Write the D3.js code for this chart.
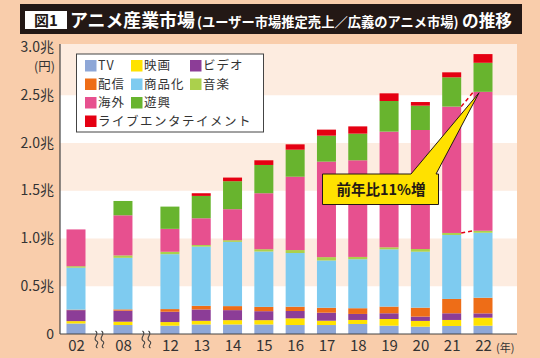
<!DOCTYPE html>
<html><head><meta charset="utf-8">
<script src="https://cdn.jsdelivr.net/npm/d3@7"></script>
<style>
html,body{margin:0;padding:0;background:#f9cdab;}
svg{display:block;font-family:"Noto Sans CJK JP","Noto Sans",sans-serif;}
</style></head>
<body>
<svg id="c" width="540" height="358"></svg>
<script>
// ---- data (億円) ----
const years = ["02","08","12","13","14","15","16","17","18","19","20","21","22"];
const slots = [0,1.5,3,4,5,6,7,8,9,10,11,12,13];
const seriesNames = ["TV","映画","ビデオ","配信","商品化","音楽","海外","遊興","ライブエンタテイメント"];
const tv      = [1100, 940, 870,1000,1000,1000, 940, 940,1050, 870, 770, 840, 870];
const eiga    = [ 250, 350, 380, 380, 450, 450, 700, 450, 420, 700, 600, 630, 840];
const video   = [1150,1150,1080,1190,1050, 940, 770, 840, 630, 600, 450, 700, 450];
const haishin = [  50, 140, 280, 380, 420, 450, 450, 520, 600, 700, 940,1500,1640];
const shohin  = [4400,5400,5750,6200,6730,5800,5620,4950,5130,6000,5860,6700,6800];
const ongaku  = [ 150, 250, 250, 170, 170, 240, 310, 350, 240, 210, 280, 210, 210];
const kaigai  = [3850,4200,2400,2800,3250,5860,7680,10000,10120,12110,12460,13230,14550];
const yukyo   = [   0,1500,2330,2340,2930,2960,2830,2720,2790,3210,2550,3070,3040];
const live    = [   0,   0,   0, 280, 380, 490, 560, 630, 760, 800, 380, 520, 910];
const yTicks = [0,5000,10000,15000,20000,25000,30000];
const yTickLabels = ["0","0.5兆","1.0兆","1.5兆","2.0兆","2.5兆","3.0兆"];
const colors = ["#8ea7d7","#ffe200","#8c3d97","#ee6d17","#7ecbf0","#abd04c","#e7508f","#68b42e","#e50012"];
const calloutText = "前年比11%増";

const seriesData = [tv,eiga,video,haishin,shohin,ongaku,kaigai,yukyo,live];
const table = years.map((y,i)=>{const o={year:y,slot:slots[i]}; seriesNames.forEach((s,k)=>o[s]=seriesData[k][i]); return o;});

const svg = d3.select("#c");
const L=60, R=517, T=44, B=334;
const x = d3.scaleLinear().domain([0,13]).range([76,483]);
const y = d3.scaleLinear().domain([0,30000]).range([B,47.5]);
const bw = 19;

// title
svg.append("rect").attr("x",20).attr("y",4).attr("width",502).attr("height",30).attr("fill","#231815");
svg.append("rect").attr("x",25).attr("y",11).attr("width",42).attr("height",18).attr("fill","#fff");
svg.append("text").attr("x",46).attr("y",26).attr("text-anchor","middle").attr("font-size",15).attr("font-weight","bold").attr("fill","#231815").text("図1");
function fitText(str, x0, width, size0, baseline){
  const t = svg.append("text").attr("x",x0).attr("y",baseline).attr("font-size",size0).attr("font-weight","bold").attr("fill","#fff").text(str);
  const w = t.node().getComputedTextLength();
  if (w>0) t.attr("font-size", size0*width/w);
  return t;
}
fitText("アニメ産業市場",70,125,18,27);
fitText("(ユーザー市場推定売上／広義のアニメ市場)",197,262,14,26.5);
fitText("の推移",462,50,17,27);

// plot background & bands
svg.append("rect").attr("x",L).attr("y",T).attr("width",R-L).attr("height",B-T).attr("fill","#fff");
[[5000,10000],[15000,20000],[25000,30000]].forEach(([a,b])=>{
  const top = b===30000 ? T : y(b);
  svg.append("rect").attr("x",L).attr("y",top).attr("width",R-L).attr("height",y(a)-top).attr("fill","#fdece0");
});

// bars
const stack = d3.stack().keys(seriesNames)(table);
svg.append("g").selectAll("g").data(stack).join("g").attr("fill",(d,i)=>colors[i])
  .selectAll("rect").data(d=>d).join("rect")
  .attr("x",d=>x(d.data.slot)-bw/2).attr("width",bw)
  .attr("y",d=>y(d[1])).attr("height",d=>Math.max(0,y(d[0])-y(d[1])));

// axes
const yAxis = d3.axisLeft(y).tickValues(yTicks).tickFormat((d,i)=>yTickLabels[i]).tickSize(0).tickPadding(6);
const gy = svg.append("g").attr("transform",`translate(${L},0)`).call(yAxis);
gy.select(".domain").remove();
gy.selectAll("text").attr("font-size",14).attr("fill","#333").attr("font-family","'Noto Sans CJK JP',sans-serif").attr("dy","0.3em");
svg.append("line").attr("x1",L).attr("x2",L).attr("y1",T).attr("y2",B).attr("stroke","#444").attr("stroke-width",1.2);
svg.append("text").attr("x",55).attr("y",71).attr("text-anchor","end").attr("font-size",12.5).attr("fill","#333").text("(円)");

const xAxis = d3.axisBottom(x).tickValues(slots).tickFormat((d,i)=>years[i]).tickSize(0).tickPadding(6);
const gx = svg.append("g").attr("transform",`translate(0,${B})`).call(xAxis);
gx.select(".domain").remove();
gx.selectAll("text").attr("font-size",15).attr("fill","#333").attr("font-family","'Noto Sans CJK JP',sans-serif");
svg.append("line").attr("x1",L).attr("x2",R).attr("y1",B).attr("y2",B).attr("stroke","#444").attr("stroke-width",1.2);
svg.append("text").attr("x",496).attr("y",352).attr("font-size",11).attr("fill","#333").text("(年)");

// break marks
[ (x(0)+x(1.5))/2, (x(1.5)+x(3))/2 ].forEach(cx=>{
  [-3,3].forEach(dx=>{
    const px = cx+dx;
    svg.append("path").attr("d",`M${px-1},331 C${px+4},334 ${px-5},338 ${px},341 C${px+4},343 ${px-3},346 ${px+1},348`)
      .attr("fill","none").attr("stroke","#444").attr("stroke-width",1.1);
  });
});

// legend
svg.append("rect").attr("x",76.5).attr("y",54).attr("width",187).attr("height",78).attr("fill","#fff").attr("stroke","#444").attr("stroke-width",1);
const legPos = [[85,65.5],[131,65.5],[190,65.5],[85,84],[131,84],[190,84],[85,102.5],[131,102.5],[85,121]];
seriesNames.forEach((s,i)=>{
  const [lx,ly]=legPos[i];
  svg.append("rect").attr("x",lx).attr("y",ly-5.5).attr("width",11.5).attr("height",11.5).attr("fill",colors[i]);
  svg.append("text").attr("x",lx+13).attr("y",ly+4.8).attr("font-size",12.5).attr("fill","#333")
    .attr("letter-spacing", s.length>5 ? "1.5px":"1px").text(s);
});

// dashed connectors between 21 and 22
const cum = (i,k)=>seriesData.slice(0,k+1).reduce((a,s)=>a+s[i],0);
const i21=11,i22=12;
svg.append("line").attr("x1",x(slots[i21])+bw/2).attr("y1",y(cum(i21,6))).attr("x2",x(slots[i22])-bw/2).attr("y2",y(cum(i22,6)))
  .attr("stroke","#e50012").attr("stroke-width",1.5).attr("stroke-dasharray","4,3");
svg.append("line").attr("x1",x(slots[i21])+bw/2).attr("y1",y(cum(i21,5))).attr("x2",x(slots[i22])-bw/2).attr("y2",y(cum(i22,5)))
  .attr("stroke","#e50012").attr("stroke-width",1.5).attr("stroke-dasharray","4,3");

// callout
const tipX = x(slots[i22])-4, tipY = y(cum(i22,6))+1;
svg.append("path").attr("d",`M322.5,174 H411 L${tipX},${tipY} L436,174 H438.5 V204.5 H322.5 Z`)
  .attr("fill","#ffe100").attr("stroke","#231815").attr("stroke-width",1);
svg.append("text").attr("x",381).attr("y",195).attr("text-anchor","middle").attr("font-size",14.5).attr("font-weight","bold").attr("fill","#231815").text(calloutText);
</script>
</body></html>
